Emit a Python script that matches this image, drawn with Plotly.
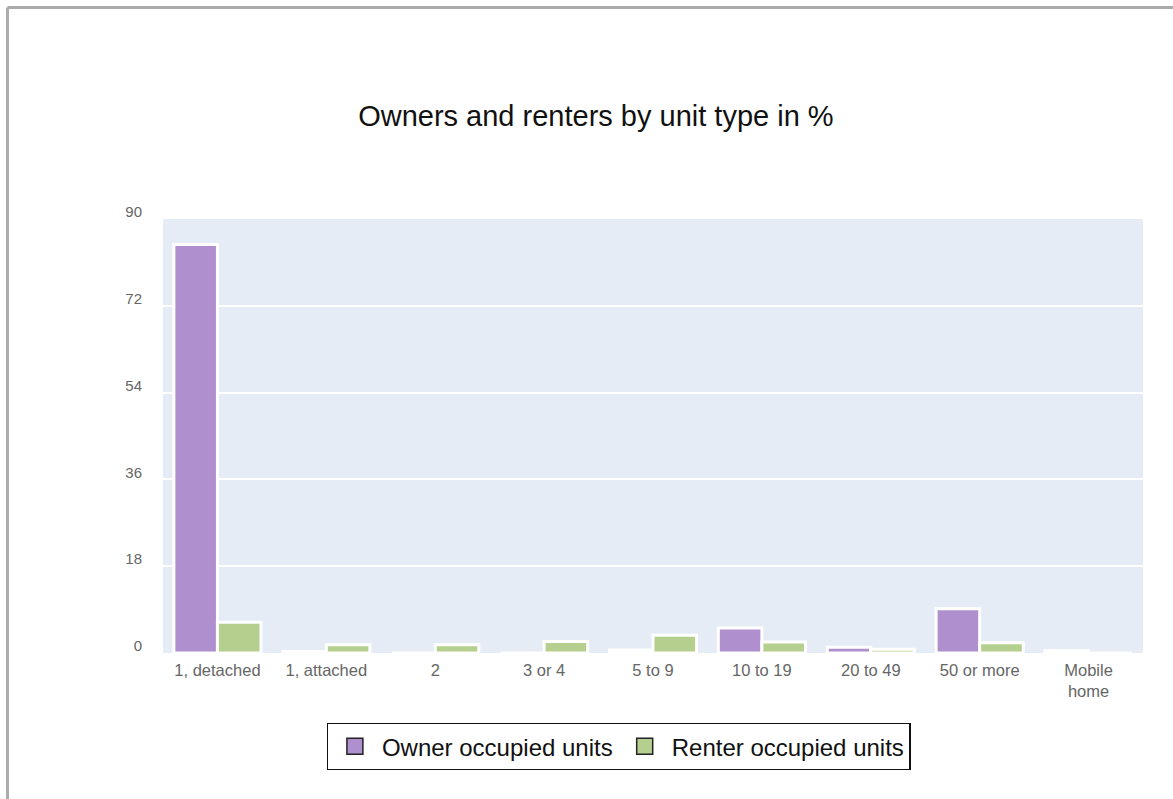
import plotly.graph_objects as go

# Housing units by structure type, share of occupied units (%)
unit_types = ["1, detached", "1, attached", "2", "3 or 4", "5 to 9",
              "10 to 19", "20 to 49", "50 or more", "Mobile<br>home"]
owner_pct = [84.7, 0.3, 0.0, 0.0, 0.6, 5.2, 1.2, 9.2, 0.5]
renter_pct = [6.4, 1.7, 1.7, 2.4, 3.7, 2.3, 0.8, 2.1, 0.0]
y_ticks = [0, 18, 36, 54, 72, 90]

OWNER = "#AF8FCE"
RENTER = "#B5CF8F"
FONT = "Liberation Sans, Arial, sans-serif"

fig = go.Figure()
fig.add_trace(go.Bar(x=unit_types, y=owner_pct, name="Owner occupied units",
                     marker=dict(color=OWNER, line=dict(color="white", width=3)),
                     showlegend=False))
fig.add_trace(go.Bar(x=unit_types, y=renter_pct, name="Renter occupied units",
                     marker=dict(color=RENTER, line=dict(color="white", width=3)),
                     showlegend=False))

# legend entries with dark-outlined square swatches
for name, col in [("Owner occupied units", OWNER), ("Renter occupied units", RENTER)]:
    fig.add_trace(go.Scatter(x=[None], y=[None], mode="markers", name=name,
                             marker=dict(symbol="square", size=16, color=col,
                                         line=dict(color="#222", width=1.5))))

# page frame
frame = dict(color="#ABABAB", width=3)
fig.add_shape(type="line", xref="paper", yref="paper",
              x0=-0.1587, x1=1.05, y0=1.4873, y1=1.4873, line=frame)
fig.add_shape(type="line", xref="paper", yref="paper",
              x0=-0.1587, x1=-0.1587, y0=1.4873, y1=-0.36, line=frame)

fig.update_layout(
    width=1173, height=799,
    margin=dict(l=163, r=30, t=219, b=146),
    paper_bgcolor="white",
    plot_bgcolor="#E5ECF6",
    font=dict(family=FONT, color="#666"),
    title=dict(text="Owners and renters by unit type in %", x=0.508, xanchor="center",
               y=1 - 116 / 799, yanchor="middle",
               font=dict(family=FONT, size=29, color="#111")),
    barmode="group", bargap=0.2, bargroupgap=0,
    showlegend=True,
    legend=dict(orientation="h", x=0.465, xanchor="center", y=-0.161, yanchor="top",
                bordercolor="#111", borderwidth=1.2, bgcolor="white",
                font=dict(family=FONT, size=24, color="#111"),
                itemsizing="trace", itemwidth=44),
    xaxis=dict(showgrid=False, showline=False, ticks="",
               tickfont=dict(size=16.5, color="#666"), ticklabelstandoff=5,
               fixedrange=True),
    yaxis=dict(range=[0, 90], tickvals=y_ticks, showgrid=True, gridcolor="white",
               gridwidth=2, zeroline=False, showline=False, ticks="",
               tickfont=dict(size=15, color="#666"), ticklabelstandoff=20,
               ticklabelshift=-7),
)

fig.write_html("out.html")
